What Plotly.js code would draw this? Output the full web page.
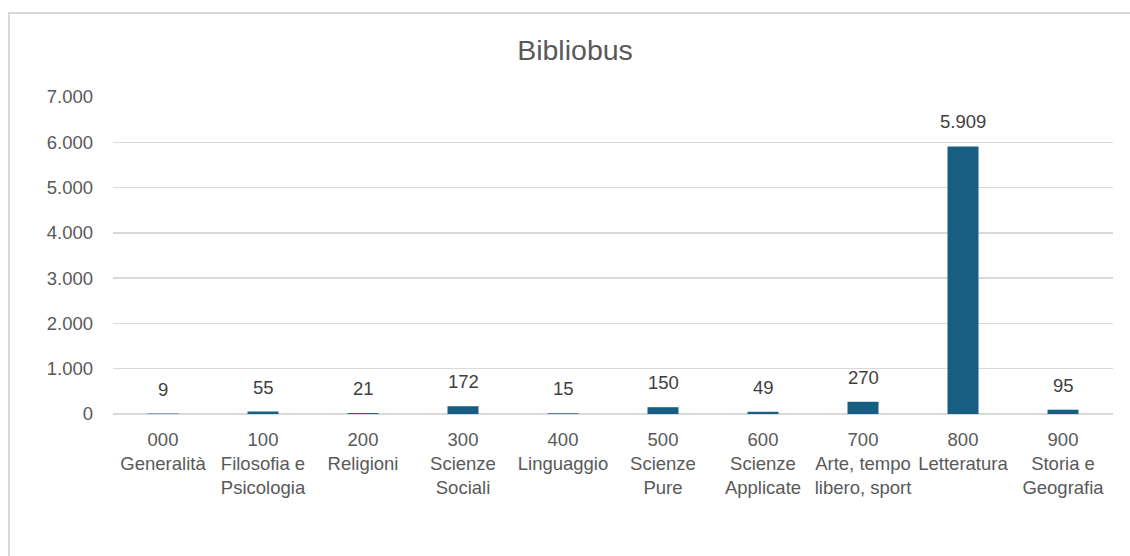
<!DOCTYPE html>
<html>
<head>
<meta charset="utf-8">
<script src="https://cdn.plot.ly/plotly-3.0.1.min.js"></script>
<style>
  html, body { margin: 0; padding: 0; background: #ffffff; }
  #wrap { position: relative; width: 1130px; height: 556px; overflow: hidden; }
  #frame { position: absolute; left: 8px; top: 12px; width: 1200px; height: 600px;
           border-left: 2px solid #d9d9d9; border-top: 2px solid #d9d9d9; box-sizing: border-box; }
  #chart { position: absolute; left: 0; top: 0; width: 1130px; height: 556px; }
</style>
</head>
<body>
<div id="wrap">
  <div id="frame"></div>
  <div id="chart"></div>
</div>
<script>
const categories = [
  "000<br>Generalità",
  "100<br>Filosofia e<br>Psicologia",
  "200<br>Religioni",
  "300<br>Scienze<br>Sociali",
  "400<br>Linguaggio",
  "500<br>Scienze<br>Pure",
  "600<br>Scienze<br>Applicate",
  "700<br>Arte, tempo<br>libero, sport",
  "800<br>Letteratura",
  "900<br>Storia e<br>Geografia"
];
const values = [9, 55, 21, 172, 15, 150, 49, 270, 5909, 95];
const valueLabels = ["9", "55", "21", "172", "15", "150", "49", "270", "5.909", "95"];
const yTicks = [0, 1000, 2000, 3000, 4000, 5000, 6000, 7000];

const font = "Liberation Sans, Arial, sans-serif";

const trace = {
  type: "bar",
  x: categories,
  y: values,
  marker: { color: "#175F82" },
  hoverinfo: "none"
};

const annotations = categories.map((c, i) => ({
  x: c,
  y: values[i],
  xref: "x",
  yref: "y",
  text: valueLabels[i],
  showarrow: false,
  xanchor: "center",
  yanchor: "bottom",
  yshift: 12,
  font: { family: font, size: 18.5, color: "#404040" }
}));

const layout = {
  width: 1130,
  height: 556,
  paper_bgcolor: "rgba(0,0,0,0)",
  plot_bgcolor: "rgba(0,0,0,0)",
  margin: { l: 113, r: 17, t: 97, b: 142 },
  separators: ",.",
  bargap: 0.69,
  showlegend: false,
  annotations: annotations,
  title: {
    text: "Bibliobus",
    font: { family: font, size: 28.5, color: "#595959" },
    x: 575 / 1130,
    xref: "container",
    xanchor: "center",
    y: 1 - 50 / 556,
    yref: "container",
    yanchor: "middle"
  },
  xaxis: {
    type: "category",
    tickangle: 0,
    ticks: "",
    showgrid: false,
    showline: false,
    zeroline: false,
    ticklabelstandoff: 12,
    tickfont: { family: font, size: 18.5, color: "#595959" },
    automargin: false
  },
  yaxis: {
    range: [0, 7000],
    tickvals: yTicks,
    tickformat: ",d",
    ticks: "",
    showgrid: true,
    gridcolor: "#d9d9d9",
    gridwidth: 1.3,
    zeroline: true,
    zerolinecolor: "#d9d9d9",
    zerolinewidth: 1.3,
    showline: false,
    ticklabelstandoff: 19,
    tickfont: { family: font, size: 18.5, color: "#595959" },
    automargin: false
  }
};

Plotly.newPlot("chart", [trace], layout, { displayModeBar: false, staticPlot: true });
</script>
</body>
</html>
